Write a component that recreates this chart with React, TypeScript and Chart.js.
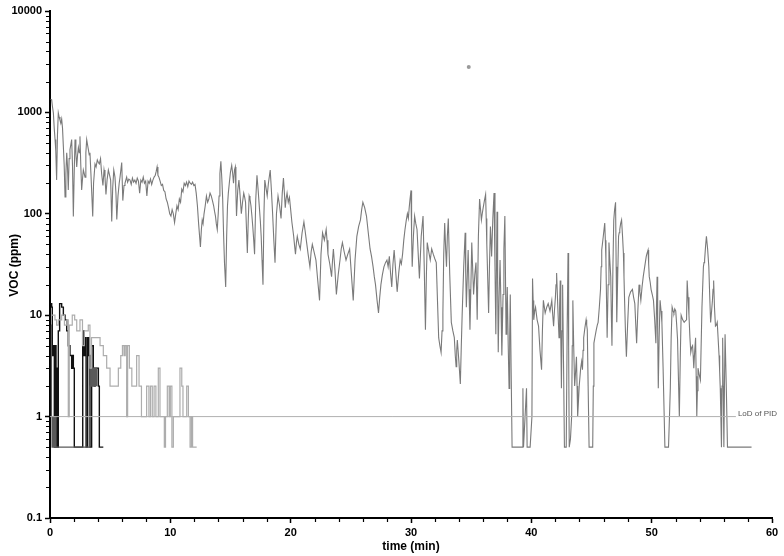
import React, { useEffect, useRef } from "react";
import { Chart, registerables } from "chart.js";

Chart.register(...registerables);

// [time (min), VOC (ppm)] – main PID trace
const mainSeries: [number, number][] = [
  [0.05, 1350], [0.14, 1330], [0.2, 1150], [0.28, 990], [0.35, 700], [0.42, 540], [0.48, 420], [0.55, 215],
  [0.62, 600], [0.69, 990], [0.76, 900], [0.83, 840], [0.9, 780], [0.97, 860], [1.04, 700], [1.11, 460],
  [1.18, 300], [1.25, 147], [1.32, 250], [1.39, 400], [1.45, 300], [1.52, 172], [1.59, 350], [1.66, 430],
  [1.73, 480], [1.8, 540], [1.87, 300], [1.94, 94], [2.01, 250], [2.08, 540], [2.15, 400], [2.22, 290],
  [2.29, 380], [2.36, 450], [2.43, 400], [2.49, 580], [2.56, 300], [2.63, 172], [2.7, 220], [2.77, 270],
  [2.84, 250], [2.91, 230], [2.98, 400], [3.05, 540], [3.12, 480], [3.19, 430], [3.26, 380], [3.32, 400],
  [3.4, 250], [3.48, 150], [3.55, 94], [3.62, 200], [3.74, 310], [3.83, 290], [3.93, 340], [4.02, 320],
  [4.1, 310], [4.2, 350], [4.29, 250], [4.4, 190], [4.49, 270], [4.57, 230], [4.65, 155], [4.75, 220],
  [4.85, 270], [4.95, 240], [5.04, 215], [5.13, 84], [5.21, 180], [5.3, 270], [5.4, 230], [5.48, 160],
  [5.55, 88], [5.65, 150], [5.75, 200], [5.82, 230], [5.96, 320], [6.05, 135], [6.15, 190], [6.23, 200],
  [6.3, 215], [6.37, 230], [6.45, 205], [6.55, 220], [6.65, 215], [6.75, 195], [6.85, 225], [6.95, 205],
  [7.05, 215], [7.15, 200], [7.25, 225], [7.35, 210], [7.45, 160], [7.55, 215], [7.65, 205], [7.75, 230],
  [7.85, 200], [7.95, 210], [8.05, 150], [8.15, 210], [8.25, 200], [8.35, 220], [8.45, 195], [8.55, 215],
  [8.65, 230], [8.75, 240], [8.82, 260], [8.9, 290], [8.97, 240], [9.05, 230], [9.15, 210], [9.25, 190],
  [9.35, 195], [9.45, 170], [9.55, 165], [9.65, 140], [9.75, 130], [9.85, 115], [9.95, 100], [10.05, 95],
  [10.15, 110], [10.25, 100], [10.35, 82], [10.45, 100], [10.55, 120], [10.65, 110], [10.75, 140], [10.85, 130],
  [10.95, 175], [11.05, 165], [11.15, 200], [11.25, 190], [11.35, 205], [11.45, 185], [11.55, 210], [11.65, 200],
  [11.75, 195], [11.85, 205], [11.95, 190], [12.05, 195], [12.15, 160], [12.25, 120], [12.35, 80],
  [12.5, 47], [12.58, 70], [12.65, 87], [12.72, 80], [12.8, 100], [12.9, 120], [13.0, 150], [13.1, 130],
  [13.2, 140], [13.3, 160], [13.4, 150], [13.5, 135], [13.6, 120], [13.68, 105], [13.75, 95], [13.82, 80],
  [13.9, 70], [13.98, 100], [14.05, 150], [14.12, 250], [14.2, 330], [14.28, 220], [14.35, 140], [14.43, 60],
  [14.5, 33], [14.6, 19], [14.68, 60], [14.75, 120], [14.82, 160], [14.9, 200], [15.0, 260], [15.1, 300],
  [15.18, 250], [15.25, 200], [15.33, 270], [15.4, 290], [15.45, 160], [15.5, 95], [15.6, 170], [15.7, 215],
  [15.8, 150], [15.9, 100], [16.0, 130], [16.1, 160], [16.18, 145], [16.25, 130], [16.33, 70], [16.4, 41],
  [16.48, 90], [16.55, 150], [16.62, 140], [16.7, 120], [16.78, 95], [16.85, 75], [16.93, 55], [17.0, 40],
  [17.1, 140], [17.2, 240], [17.3, 170], [17.4, 115], [17.48, 85], [17.55, 60], [17.62, 35], [17.7, 20],
  [17.78, 100], [17.85, 215], [17.95, 180], [18.05, 150], [18.15, 200], [18.3, 270], [18.4, 170], [18.5, 100],
  [18.6, 55], [18.7, 33], [18.82, 100], [18.95, 150], [19.08, 120], [19.2, 90], [19.3, 160], [19.4, 225],
  [19.48, 160], [19.55, 115], [19.62, 140], [19.7, 160], [19.8, 130], [19.9, 145], [20.0, 110], [20.1, 83],
  [20.18, 70], [20.25, 60], [20.33, 48], [20.4, 40], [20.48, 52], [20.55, 60], [20.68, 50], [20.8, 45],
  [20.95, 65], [21.1, 83], [21.2, 68], [21.3, 55], [21.45, 40], [21.6, 30], [21.7, 42], [21.8, 50],
  [21.95, 42], [22.1, 35], [22.25, 22], [22.4, 14], [22.52, 40], [22.65, 65], [22.8, 55], [22.95, 70],
  [23.02, 55], [23.1, 40], [23.25, 32], [23.4, 24], [23.48, 35], [23.55, 45], [23.68, 28], [23.8, 16],
  [23.95, 25], [24.1, 35], [24.2, 45], [24.3, 52], [24.45, 42], [24.6, 35], [24.75, 40], [24.9, 45],
  [25.05, 25], [25.2, 14], [25.35, 35], [25.5, 60], [25.65, 75], [25.8, 87], [25.9, 110], [26.0, 130],
  [26.15, 115], [26.3, 95], [26.45, 65], [26.6, 45], [26.72, 38], [26.85, 30], [26.95, 24], [27.05, 20],
  [27.18, 14], [27.3, 10.5], [27.4, 15], [27.5, 20], [27.62, 25], [27.75, 30], [27.88, 33], [28.0, 35],
  [28.1, 30], [28.2, 38], [28.3, 26], [28.4, 19], [28.5, 32], [28.6, 44], [28.72, 28], [28.85, 17],
  [28.98, 26], [29.1, 35], [29.2, 32], [29.3, 40], [29.4, 55], [29.5, 70], [29.6, 85], [29.7, 100],
  [29.78, 90], [29.85, 115], [29.92, 140], [30.0, 170], [30.05, 60], [30.1, 30], [30.2, 60], [30.3, 95],
  [30.4, 80], [30.5, 70], [30.6, 40], [30.7, 23], [30.85, 60], [31.0, 95], [31.1, 30], [31.2, 7.2],
  [31.28, 25], [31.35, 52], [31.48, 42], [31.6, 35], [31.72, 45], [31.85, 40], [31.98, 36], [32.1, 33],
  [32.2, 14], [32.3, 6], [32.4, 5], [32.5, 4.3], [32.58, 7], [32.65, 10.5], [32.72, 40], [32.8, 81],
  [32.88, 45], [32.95, 30], [33.02, 60], [33.1, 90], [33.22, 25], [33.35, 8.5], [33.48, 7], [33.6, 6],
  [33.68, 4], [33.75, 3.1], [33.8, 4.5], [33.85, 5.7], [33.98, 3.5], [34.1, 2.1], [34.18, 5], [34.25, 10],
  [34.38, 30], [34.5, 65], [34.55, 25], [34.6, 12], [34.68, 25], [34.75, 44], [34.82, 18], [34.9, 7.2],
  [34.98, 20], [35.05, 52], [35.12, 30], [35.2, 16], [35.3, 25], [35.4, 33], [35.45, 18], [35.5, 9],
  [35.6, 60], [35.7, 140], [35.78, 110], [35.85, 87], [35.92, 100], [36.0, 115], [36.1, 135], [36.2, 155],
  [36.25, 90], [36.3, 50], [36.38, 22], [36.45, 10.5], [36.52, 30], [36.6, 75], [36.65, 55], [36.7, 38],
  [36.8, 90], [36.9, 160], [36.98, 30], [37.05, 6.5], [37.1, 30], [37.15, 105], [37.2, 20], [37.25, 4.3],
  [37.32, 15], [37.4, 35], [37.48, 12], [37.55, 4], [37.6, 8], [37.65, 16], [37.72, 45], [37.8, 95],
  [37.85, 25], [37.9, 6.5], [37.95, 11], [38.0, 19], [38.08, 5], [38.15, 1.9], [38.2, 6], [38.25, 16],
  [38.32, 3], [38.4, 0.5], [38.7, 0.5], [39.0, 0.5], [39.25, 0.5], [39.3, 1.9], [39.35, 0.5], [39.6, 1.9],
  [39.65, 0.5], [39.9, 0.5], [40.05, 1.0], [40.1, 23], [40.15, 14], [40.2, 9], [40.28, 11], [40.35, 12],
  [40.48, 9], [40.6, 7.8], [40.72, 4.5], [40.85, 2.9], [40.92, 7], [41.0, 14], [41.08, 12], [41.15, 10.5],
  [41.28, 12], [41.4, 13], [41.55, 11], [41.7, 14], [41.78, 10], [41.85, 7.8], [41.92, 11], [42.0, 15],
  [42.05, 20], [42.1, 26], [42.2, 12], [42.3, 6], [42.35, 12], [42.4, 22], [42.45, 6], [42.5, 1.9],
  [42.55, 7], [42.6, 20], [42.68, 3], [42.75, 0.5], [42.9, 0.5], [42.98, 8], [43.05, 41], [43.1, 5],
  [43.15, 0.5], [43.25, 0.6], [43.35, 1.0], [43.4, 5], [43.45, 14], [43.52, 5], [43.6, 2], [43.68, 2.8],
  [43.75, 3.9], [43.8, 2], [43.85, 1.0], [43.98, 2], [44.1, 3], [44.18, 3.5], [44.25, 2.9], [44.3, 4.5],
  [44.35, 6], [44.45, 7.5], [44.55, 9], [44.6, 8], [44.65, 7.2], [44.72, 2], [44.8, 0.5], [45.1, 0.5],
  [45.15, 2], [45.2, 5.3], [45.3, 6.2], [45.4, 7.2], [45.48, 8], [45.55, 8.5], [45.65, 12], [45.75, 18],
  [45.8, 30], [45.85, 44], [45.98, 60], [46.1, 81], [46.15, 55], [46.2, 35], [46.25, 14], [46.3, 6],
  [46.38, 20], [46.45, 52], [46.52, 35], [46.6, 24], [46.65, 10], [46.7, 5], [46.78, 30], [46.85, 87],
  [46.92, 110], [47.0, 130], [47.05, 30], [47.1, 8.5], [47.18, 25], [47.25, 60], [47.3, 65], [47.35, 70],
  [47.42, 80], [47.5, 87], [47.58, 60], [47.65, 41], [47.7, 24], [47.75, 14], [47.82, 7], [47.9, 3.9],
  [48.0, 8], [48.1, 15], [48.25, 17], [48.4, 18], [48.5, 15], [48.6, 13], [48.68, 8], [48.75, 5.3],
  [48.85, 11], [48.95, 20], [49.02, 17], [49.1, 14], [49.2, 19], [49.3, 24], [49.42, 30], [49.55, 38],
  [49.62, 41], [49.7, 44], [49.75, 32], [49.8, 24], [49.88, 21], [49.95, 18], [50.05, 16], [50.15, 14],
  [50.25, 9], [50.35, 5.3], [50.4, 12], [50.45, 24], [50.5, 7], [50.55, 1.9], [50.62, 6], [50.7, 14],
  [50.78, 11], [50.85, 8.5], [50.95, 3], [51.1, 0.5], [51.4, 0.5], [51.48, 1], [51.55, 1.9], [51.62, 6],
  [51.7, 12], [51.78, 11], [51.85, 10.5], [51.92, 11.5], [52.0, 11], [52.08, 8], [52.15, 5.8], [52.22, 2.5],
  [52.3, 1.0], [52.38, 4], [52.45, 10], [52.58, 9], [52.7, 8.5], [52.8, 8.8], [52.9, 9], [52.95, 22],
  [53.02, 15], [53.1, 10], [53.18, 6], [53.25, 4.3], [53.32, 4.8], [53.4, 5], [53.45, 4], [53.5, 3],
  [53.58, 4.5], [53.65, 6], [53.7, 2.5], [53.75, 1.0], [53.8, 1.8], [53.85, 3], [53.95, 2.6], [54.05, 2.3],
  [54.18, 12], [54.3, 30], [54.35, 33], [54.4, 35], [54.48, 48], [54.55, 60], [54.65, 45], [54.75, 30],
  [54.82, 16], [54.9, 8.5], [54.98, 11], [55.05, 14], [55.1, 18], [55.15, 22], [55.22, 12], [55.3, 7.8],
  [55.38, 8], [55.45, 8.5], [55.52, 6], [55.6, 4], [55.65, 2.8], [55.7, 1.9], [55.75, 1], [55.8, 0.5],
  [55.85, 2], [55.9, 6], [55.95, 2], [56.0, 0.5], [56.05, 2], [56.1, 6.5], [56.2, 2], [56.3, 0.5],
  [58.3, 0.5],
];

// light grey PID trace (stepped)
const lightSeries: [number, number][] = [
  [0.13, 10], [0.41, 9], [0.55, 8], [0.7, 9], [0.97, 10], [1.2, 8], [1.39, 9], [1.52, 1], [1.6, 8], [1.85, 10],
  [2.05, 9], [2.22, 7], [2.49, 9], [2.7, 5], [2.85, 7], [3.18, 8], [3.32, 3], [3.45, 6], [3.75, 6], [3.95, 6],
  [4.16, 5], [4.43, 4], [4.71, 3], [4.99, 2], [5.55, 2], [5.68, 3], [5.88, 4], [6.02, 5], [6.15, 4], [6.25, 5],
  [6.37, 1], [6.45, 5], [6.6, 3], [6.8, 2], [7.06, 2], [7.2, 4], [7.4, 2], [7.6, 1], [7.85, 1], [8.03, 2],
  [8.22, 1], [8.35, 2], [8.5, 1], [8.65, 2], [8.8, 1], [9.0, 3], [9.14, 1], [9.35, 1], [9.5, 0.5], [9.6, 1],
  [9.75, 2], [9.9, 1], [10.0, 2], [10.13, 0.5], [10.25, 1], [10.7, 1], [10.8, 3], [10.95, 2], [11.05, 1],
  [11.36, 2], [11.5, 1], [11.64, 0.5], [11.75, 1], [11.85, 0.5], [12.19, 0.5],
];

// black PID trace (stepped)
const blackSeries: [number, number][] = [
  [0.05, 13], [0.14, 12], [0.19, 4], [0.28, 5], [0.36, 0.5], [0.42, 5], [0.5, 0.5], [0.55, 3], [0.61, 0.5],
  [0.69, 7], [0.8, 13], [0.97, 12], [1.11, 10], [1.25, 9], [1.39, 7], [1.52, 5], [1.66, 4], [1.8, 3], [1.86, 4],
  [1.94, 3], [2.02, 0.5], [2.63, 0.5], [2.72, 7], [2.83, 4], [2.91, 6], [3.0, 0.5], [3.13, 6], [3.24, 4],
  [3.32, 0.5], [3.46, 5], [3.6, 3], [3.68, 2], [3.74, 3], [3.88, 3], [4.02, 2], [4.1, 0.5], [4.43, 0.5],
];

// dark grey PID trace near the start (stepped)
const darkSeries: [number, number][] = [
  [0.08, 8], [0.12, 1], [0.17, 0.5], [0.22, 1], [0.27, 0.5], [0.32, 1], [0.38, 0.5], [0.45, 1], [0.5, 0.5],
  [3.3, 2], [3.4, 3], [3.5, 2], [3.6, 3], [3.7, 2], [3.8, 3], [3.9, 2],
];

const outlierPoint: [number, number][] = [[34.8, 2800]];
const lodLine: [number, number][] = [[0, 1], [57, 1]];
const lodLabel = "LoD of PID";
const yMajorTicks = [0.1, 1, 10, 100, 1000, 10000];
const xMajorTicks = [0, 10, 20, 30, 40, 50, 60];
const xMinorTicks = [2, 4, 6, 8, 12, 14, 16, 18, 22, 24, 26, 28, 32, 34, 36, 38, 42, 44, 46, 48, 52, 54, 56, 58];
const yMinorMultipliers = [2, 3, 4, 5, 6, 7, 8, 9];
const xTitle = "time (min)";
const yTitle = "VOC (ppm)";

const toXY = (arr: [number, number][]) => arr.map(([x, y]) => ({ x, y }));

const FONT = "Arial, 'Liberation Sans', Helvetica, sans-serif";

const decorPlugin = {
  id: "decor",
  afterDraw(chart: any) {
    const ctx = chart.ctx;
    const xs = chart.scales.x;
    const ys = chart.scales.y;
    const area = chart.chartArea;
    ctx.save();
    // minor ticks
    ctx.strokeStyle = "#000";
    ctx.lineWidth = 1.2;
    ctx.beginPath();
    for (let k = -1; k < 4; k++) {
      for (const m of yMinorMultipliers) {
        const v = m * Math.pow(10, k);
        const py = Math.round(ys.getPixelForValue(v)) + 0.5;
        ctx.moveTo(area.left - 4, py);
        ctx.lineTo(area.left, py);
      }
    }
    for (const t of xMinorTicks) {
      const px = Math.round(xs.getPixelForValue(t)) + 0.5;
      ctx.moveTo(px, area.bottom);
      ctx.lineTo(px, area.bottom + 4);
    }
    ctx.stroke();
    // LoD label
    ctx.fillStyle = "#555";
    ctx.font = `8px ${FONT}`;
    ctx.textAlign = "left";
    ctx.textBaseline = "middle";
    ctx.fillText(lodLabel, xs.getPixelForValue(lodLine[1][0]) + 2, ys.getPixelForValue(1) - 3);
    // titles
    ctx.fillStyle = "#000";
    ctx.font = `bold 12px ${FONT}`;
    ctx.textAlign = "center";
    ctx.fillText(xTitle, (area.left + area.right) / 2, 547);
    ctx.translate(15, ys.getPixelForValue(31));
    ctx.rotate(-Math.PI / 2);
    ctx.fillText(yTitle, 0, 0);
    ctx.restore();
  },
};

export default function App() {
  const ref = useRef<HTMLCanvasElement | null>(null);
  useEffect(() => {
    document.body.style.margin = "0";
    const canvas = ref.current;
    if (!canvas) return;
    const chart = new Chart(canvas, {
      type: "line",
      data: {
        datasets: [
          {
            label: "LoD",
            data: toXY(lodLine),
            borderColor: "#b0b0b0",
            borderWidth: 1,
            pointRadius: 0,
          },
          {
            label: "light",
            data: toXY(lightSeries),
            borderColor: "#adadad",
            borderWidth: 1.2,
            pointRadius: 0,
            stepped: true,
          },
          {
            label: "dark",
            data: toXY(darkSeries),
            borderColor: "#5a5a5a",
            borderWidth: 1.2,
            pointRadius: 0,
            stepped: true,
          },
          {
            label: "black",
            data: toXY(blackSeries),
            borderColor: "#111",
            borderWidth: 1.4,
            pointRadius: 0,
            stepped: true,
          },
          {
            label: "main",
            data: toXY(mainSeries),
            borderColor: "#7a7a7a",
            borderWidth: 1.1,
            pointRadius: 0,
            tension: 0,
          },
          {
            label: "outlier",
            data: toXY(outlierPoint),
            showLine: false,
            pointRadius: 2,
            pointBackgroundColor: "#9a9a9a",
            pointBorderWidth: 0,
            borderColor: "#9a9a9a",
          },
        ],
      } as any,
      options: {
        animation: false,
        responsive: false,
        devicePixelRatio: 1,
        layout: { padding: { top: 11, right: 12, left: 0, bottom: 0 } },
        plugins: { legend: { display: false }, tooltip: { enabled: false } },
        events: [],
        scales: {
          x: {
            type: "linear",
            min: 0,
            max: 60,
            afterFit: (s: any) => {
              s.height = 38;
            },
            afterBuildTicks: (s: any) => {
              s.ticks = xMajorTicks.map((v) => ({ value: v }));
            },
            ticks: {
              autoSkip: false,
              maxRotation: 0,
              padding: 3,
              color: "#000",
              font: { family: FONT, size: 11, weight: "bold" },
              callback: (v: any) => String(v),
            },
            grid: {
              display: true,
              drawOnChartArea: false,
              drawTicks: true,
              tickLength: 5,
              tickColor: "#000",
              tickWidth: 1.5,
            },
            border: { display: true, color: "#000", width: 2 },
          },
          y: {
            type: "logarithmic",
            min: 0.1,
            max: 10000,
            afterFit: (s: any) => {
              s.width = 50;
            },
            afterBuildTicks: (s: any) => {
              s.ticks = yMajorTicks.map((v) => ({ value: v }));
            },
            ticks: {
              autoSkip: false,
              padding: 3,
              color: "#000",
              font: { family: FONT, size: 11, weight: "bold" },
              callback: (v: any) => String(Number(v)),
            },
            grid: {
              display: true,
              drawOnChartArea: false,
              drawTicks: true,
              tickLength: 5,
              tickColor: "#000",
              tickWidth: 1.5,
            },
            border: { display: true, color: "#000", width: 2 },
          },
        },
      } as any,
      plugins: [decorPlugin],
    });
    return () => chart.destroy();
  }, []);
  return (
    <div style={{ width: 784, height: 556, background: "#fff" }}>
      <canvas ref={ref} width={784} height={556} style={{ display: "block" }} />
    </div>
  );
}
